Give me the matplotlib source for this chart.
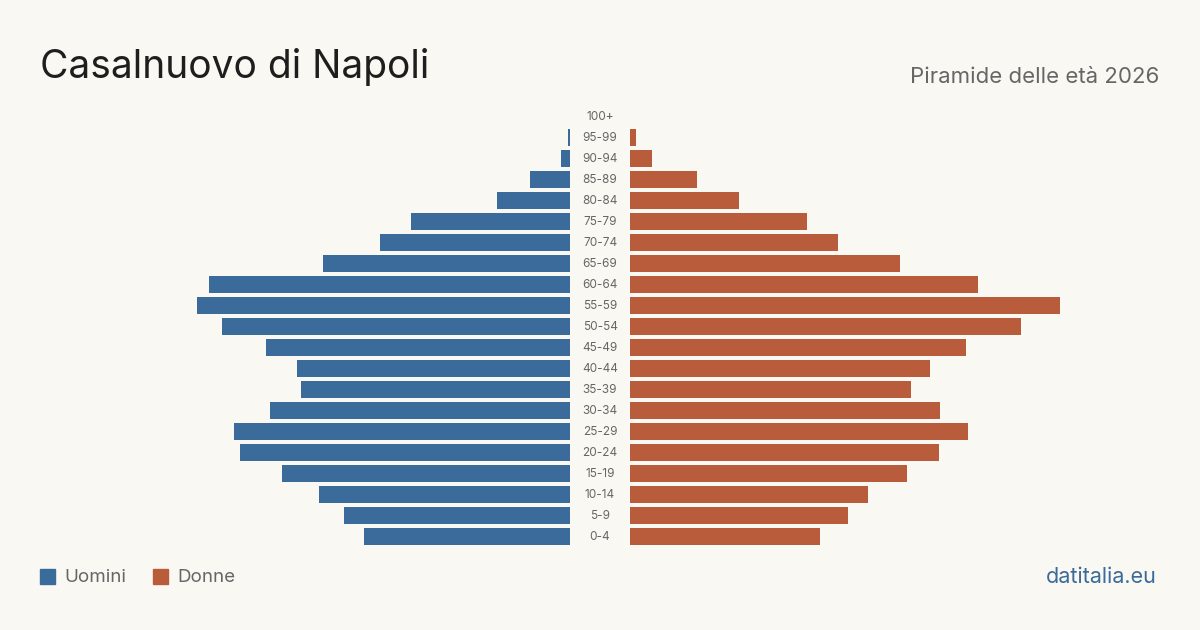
import matplotlib
matplotlib.use("Agg")
import matplotlib.pyplot as plt
from matplotlib.patches import Rectangle

plt.rcParams['font.family'] = ['Inter', 'DejaVu Sans']

# age classes, bottom to top
age_groups = ["0-4", "5-9", "10-14", "15-19", "20-24", "25-29", "30-34", "35-39",
              "40-44", "45-49", "50-54", "55-59", "60-64", "65-69", "70-74", "75-79",
              "80-84", "85-89", "90-94", "95-99", "100+"]
# residents per class
men = [927, 1017, 1130, 1296, 1485, 1512, 1350, 1211, 1229, 1368, 1566, 1679,
       1625, 1112, 855, 716, 329, 180, 41, 10, 0]
women = [855, 981, 1071, 1247, 1391, 1521, 1395, 1265, 1350, 1512, 1760, 1935,
         1566, 1215, 936, 797, 491, 302, 99, 27, 0]

BG = "#f9f8f3"
BLUE = "#3b6b9b"
RED = "#b95c3c"
GREY = "#666666"

W, H = 1200, 630
fig = plt.figure(figsize=(12, 6.3), dpi=100, facecolor=BG)

# scale: 4.5 residents per pixel, both sides the same
xmax = 2000
span = xmax / 4.5
row = 21
y_top = 116.5 - row / 2  # pixel top of the 100+ row
y_bot = 536.5 + row / 2  # pixel bottom of the 0-4 row

def axes_px(x0, x1):
    return fig.add_axes([x0 / W, 1 - y_bot / H, (x1 - x0) / W, (y_bot - y_top) / H])

ax_m = axes_px(570 - span, 570)
ax_w = axes_px(630, 630 + span)
ypos = list(range(len(age_groups)))
ax_m.barh(ypos, men, height=17 / 21, color=BLUE)
ax_w.barh(ypos, women, height=17 / 21, color=RED)
ax_m.set_xlim(xmax, 0)
ax_w.set_xlim(0, xmax)
for ax in (ax_m, ax_w):
    ax.set_ylim(-0.5, len(age_groups) - 0.5)
    ax.axis("off")

for i, lab in enumerate(age_groups):
    ax_w.annotate(lab, xy=(0, i), xytext=(-30, -0.5), textcoords="offset pixels",
                  ha="center", va="center", fontsize=8.5, color=GREY,
                  annotation_clip=False)

fig.text(40 / W, 1 - 67 / H, "Casalnuovo di Napoli", fontsize=28, color="#1e1e1e",
         ha="left", va="center")
fig.text(1159 / W, 1 - 77 / H, "Piramide delle età 2026", fontsize=16, color=GREY,
         ha="right", va="center")

# legend
for x0, col, lab in [(40, BLUE, "Uomini"), (153, RED, "Donne")]:
    fig.patches.append(Rectangle((x0 / W, 1 - 584 / H), 15 / W, 15 / H,
                                 transform=fig.transFigure, color=col))
    fig.text((x0 + 24) / W, 1 - 577 / H, lab, fontsize=13.5, color=GREY,
             ha="left", va="center")

fig.text(1157 / W, 1 - 577 / H, "datitalia.eu", fontsize=15.5, color=BLUE,
         ha="right", va="center")

fig.savefig("out.png", dpi=100, facecolor=BG)
